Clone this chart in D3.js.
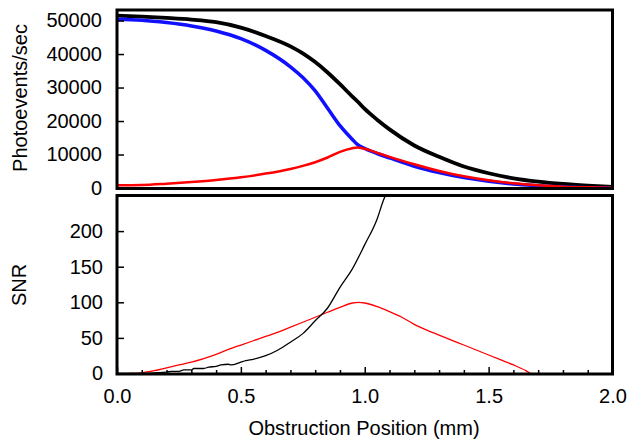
<!DOCTYPE html>
<meta charset="utf-8">
<style>
  body { margin: 0; background: #fff; }
  text { font-family: "Liberation Sans", Arial, sans-serif; fill: #000; }
  .tick line { stroke: #000; stroke-width: 1.5; }
  .tick text { font-size: 20px; }
  .frame { fill: none; stroke: #000; stroke-width: 3; }
</style>
<body>
<script src="https://d3js.org/d3.v7.min.js"></script>
<script>
// top panel: photoevents/sec vs obstruction position (mm)
var posTop    = [0.0, 0.1, 0.2, 0.3, 0.4, 0.5, 0.6, 0.7, 0.75, 0.8, 0.85, 0.9, 0.95, 0.97, 1.0, 1.05, 1.1, 1.2, 1.3, 1.4, 1.5, 1.6, 1.7, 1.8, 1.9, 2.0];
var totalRate = [51500, 51200, 50800, 50300, 49500, 47900, 45400, 42300, 40200, 37600, 34500, 31000, 27300, 25900, 23600, 20400, 17500, 12700, 9300, 6400, 4400, 2900, 1900, 1200, 700, 300];
var blueRate  = [50400, 50100, 49400, 48400, 46900, 44600, 41100, 36200, 33000, 29000, 23800, 18600, 14500, 13000, 11800, 10300, 9000, 6500, 4600, 3100, 2000, 1200, 700, 300, 100, 0];
var redRate   = [800, 900, 1300, 1800, 2400, 3200, 4300, 5700, 6600, 7700, 9100, 10800, 11900, 12100, 11700, 10500, 9300, 7100, 5100, 3500, 2300, 1400, 800, 400, 200, 100];

// bottom panel: SNR
var posRed = [0.05, 0.1, 0.15, 0.2, 0.25, 0.3, 0.35, 0.4, 0.45, 0.5, 0.55, 0.6, 0.65, 0.7, 0.75, 0.8, 0.85, 0.9, 0.95, 0.975, 1.0, 1.05, 1.1, 1.15, 1.2, 1.25, 1.3, 1.35, 1.4, 1.45, 1.5, 1.55, 1.6, 1.65, 1.67];
var snrRed = [0, 1, 4, 8, 12, 16, 21, 27, 34, 40, 46, 52, 58, 65, 72, 79, 86, 93, 99, 100, 99, 94, 87, 79, 69, 61, 54, 47, 40, 33, 26, 19, 12, 4, 0];
var posBlack = [0.0, 0.1, 0.15, 0.2, 0.22, 0.25, 0.27, 0.3, 0.31, 0.35, 0.37, 0.4, 0.42, 0.45, 0.46, 0.5, 0.52, 0.55, 0.6, 0.65, 0.7, 0.75, 0.8, 0.85, 0.9, 0.95, 1.0, 1.05, 1.075, 1.1];
var snrBlack = [0, 0, 1, 2, 3, 3, 5, 5, 7, 7, 9, 10, 12, 13, 12, 16, 18, 20, 25, 33, 44, 56, 74, 92, 121, 147, 181, 217, 243, 262];

var yTopTicks = [0, 10000, 20000, 30000, 40000, 50000];
var yBotTicks = [0, 50, 100, 150, 200];
var xMajor = [0, 0.5, 1.0, 1.5, 2.0];
var xMinor = [0.1, 0.2, 0.3, 0.4, 0.6, 0.7, 0.8, 0.9, 1.1, 1.2, 1.3, 1.4, 1.6, 1.7, 1.8, 1.9];

var W = 631, H = 439;
var left = 117, right = 612.5;
var topP = {top: 10, bottom: 188.5};
var botP = {top: 195.5, bottom: 374};

var svg = d3.select("body").append("svg").attr("width", W).attr("height", H);

var x = d3.scaleLinear().domain([0, 2]).range([left, right]);
var yTop = d3.scaleLinear().domain([0, 53300]).range([188, 9.5]);
var yBot = d3.scaleLinear().domain([0, 250]).range([373.5, 195.5]);

var defs = svg.append("defs");
defs.append("clipPath").attr("id", "clipTop").append("rect")
  .attr("x", left).attr("y", topP.top).attr("width", right - left).attr("height", topP.bottom - topP.top);
defs.append("clipPath").attr("id", "clipBot").append("rect")
  .attr("x", left).attr("y", botP.top).attr("width", right - left).attr("height", botP.bottom - botP.top);

function drawLine(g, xs, ys, yScale, color, width) {
  var pts = xs.map(function(d, i) { return [d, ys[i]]; });
  var line = d3.line()
    .x(function(d) { return x(d[0]); })
    .y(function(d) { return yScale(d[1]); })
    .curve(d3.curveMonotoneX);
  g.append("path").datum(pts)
    .attr("d", line)
    .attr("fill", "none")
    .attr("stroke", color)
    .attr("stroke-width", width);
}

// top panel
var gTop = svg.append("g").attr("clip-path", "url(#clipTop)");
drawLine(gTop, posTop, totalRate, yTop, "#000", 3.8);
drawLine(gTop, posTop, blueRate, yTop, "#1010ff", 3.5);
drawLine(gTop, posTop, redRate, yTop, "#ff0000", 2.5);

// bottom panel
var gBot = svg.append("g").attr("clip-path", "url(#clipBot)");
drawLine(gBot, posRed, snrRed, yBot, "#ff0000", 1.3);
drawLine(gBot, posBlack, snrBlack, yBot, "#000", 1.3);

// axes
svg.append("g").attr("transform", "translate(" + left + ",0)")
  .call(d3.axisLeft(yTop).tickValues(yTopTicks).tickSize(-7).tickPadding(15).tickFormat(d3.format("d")))
  .call(function(g) { g.select(".domain").remove(); });

svg.append("g").attr("transform", "translate(" + left + ",0)")
  .call(d3.axisLeft(yBot).tickValues(yBotTicks).tickSize(-7).tickPadding(14).tickFormat(d3.format("d")))
  .call(function(g) { g.select(".domain").remove(); });

svg.append("g").attr("transform", "translate(0," + botP.bottom + ")")
  .call(d3.axisBottom(x).tickValues(xMajor).tickSize(-7).tickPadding(15).tickFormat(d3.format(".1f")))
  .call(function(g) { g.select(".domain").remove(); });

svg.append("g").attr("transform", "translate(0," + botP.bottom + ")")
  .call(d3.axisBottom(x).tickValues(xMinor).tickSize(-4).tickFormat(""))
  .call(function(g) { g.select(".domain").remove(); });

// frames
svg.append("rect").attr("class", "frame")
  .attr("x", left).attr("y", topP.top).attr("width", right - left).attr("height", topP.bottom - topP.top);
svg.append("rect").attr("class", "frame")
  .attr("x", left).attr("y", botP.top).attr("width", right - left).attr("height", botP.bottom - botP.top);

// axis titles
svg.append("text")
  .attr("transform", "translate(27,98) rotate(-90)")
  .attr("text-anchor", "middle")
  .style("font-size", "20px")
  .text("Photoevents/sec");

svg.append("text")
  .attr("transform", "translate(26,285) rotate(-90)")
  .attr("text-anchor", "middle")
  .style("font-size", "20px")
  .text("SNR");

svg.append("text")
  .attr("x", 364).attr("y", 435)
  .attr("text-anchor", "middle")
  .style("font-size", "20px")
  .text("Obstruction Position (mm)");
</script>
</body>
